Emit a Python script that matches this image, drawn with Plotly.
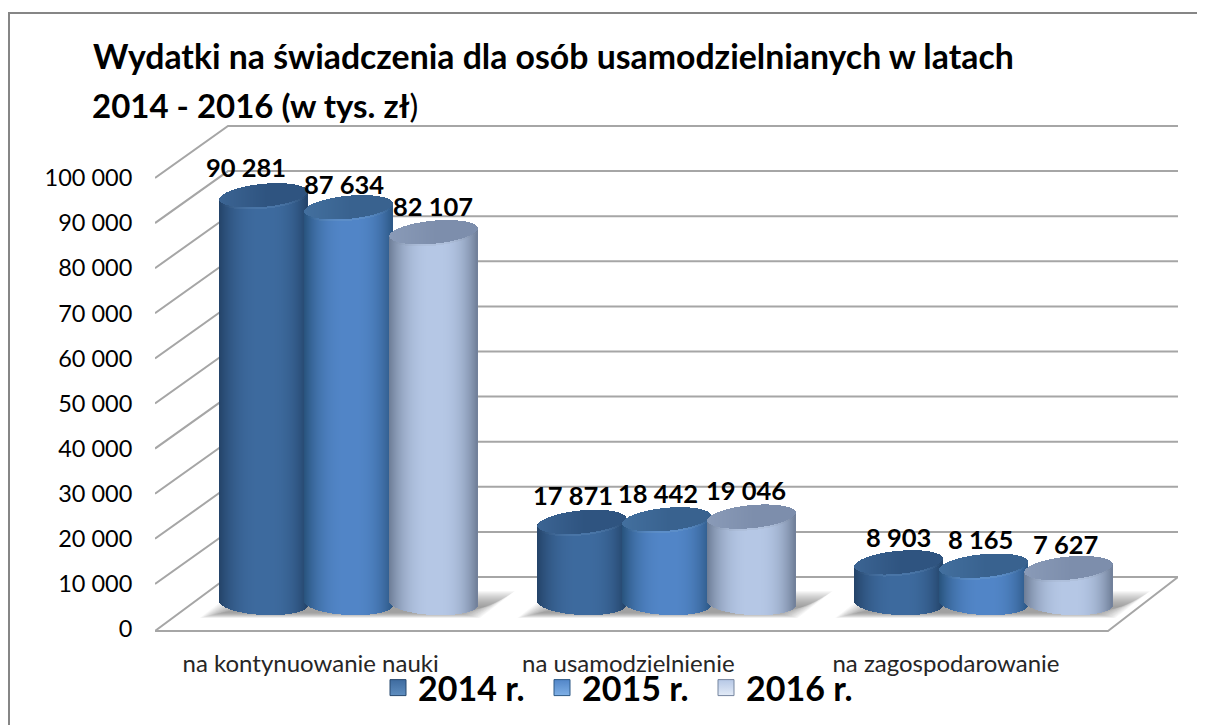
import numpy as np
import plotly.graph_objects as go

categories = ["na kontynuowanie nauki", "na usamodzielnienie", "na zagospodarowanie"]
series_names = ["2014 r.", "2015 r.", "2016 r."]
values_2014 = [90281, 17871, 8903]
values_2015 = [87634, 18442, 8165]
values_2016 = [82107, 19046, 7627]
y_ticks = list(range(0, 100001, 10000))
y_tick_labels = ["0", "10 000", "20 000", "30 000", "40 000", "50 000", "60 000", "70 000", "80 000", "90 000", "100 000"]

# label nudges in px (hand placed in the original)
label_dx = [[-18, -9, -1], [-5, -9, -4], [-1, -6, -4]]
label_dy = [[29, 27, 26], [24, 27, 27], [27, 27, 25]]

FONT = "Lato"
OFF = 8  # page body margin
W, H = 1205 - OFF, 725 - OFF
PX_L, PX_R, PX_T, PX_B = 155 - OFF, 1178 - OFF, 100 - OFF, 647 - OFF
PAPER_B = H - 1
Y0, Y100 = 629 - OFF, 178 - OFF
UNIT_X = 317.67
UNIT_Y = (Y0 - Y100) / 100000
x_lo = -0.5
x_hi = x_lo + (PX_R - PX_L) / UNIT_X
y_lo = -(PX_B - Y0) / UNIT_Y
y_hi = (Y0 - PX_T) / UNIT_Y
dxpx = lambda p: p / UNIT_X
dypx = lambda p: p / UNIT_Y
xp = lambda px: (px - OFF - PX_L) / (PX_R - PX_L)
yp = lambda py: (PAPER_B - (py - OFF)) / (PAPER_B - PX_T)

depth_x, depth_y = dxpx(73), dypx(52)
floor_right = x_lo + 953 / UNIT_X
group_shift = dxpx(35)
spacing = dxpx(85)
half_w = dxpx(44)
base_val = dypx(26)
h_top = dypx(12)
h_bot = dypx(12)
tilt_top = dypx(4)
tilt_bot = dypx(2)

palette = [
    dict(edgeL="#27486f", edgeR="#203f63", mid="#3e6b9f", top="#2f5480", topL="#3c6594", rim="#4a76a8", icon="#5f8ec0"),
    dict(edgeL="#2d5985", edgeR="#28527d", mid="#5286c8", top="#39628f", topL="#43709f", rim="#5d8fca", icon="#7fb0e6"),
    dict(edgeL="#75859f", edgeR="#66758e", mid="#b6c8e6", top="#7d8eac", topL="#8a9bb8", rim="#b0c1dd", icon="#e3ebf7"),
]
all_values = [values_2014, values_2015, values_2016]


def rgb(h):
    return np.array([int(h[i:i + 2], 16) for i in (1, 3, 5)], float)


def mix(a, b, f):
    c = rgb(a) * (1 - f) + rgb(b) * f
    return "rgb(%d,%d,%d)" % tuple(c)


N = 88
ts = (np.arange(N) + 0.5) / N * 2 - 1
fig = go.Figure()

for s, (name, vals, pal) in enumerate(zip(series_names, all_values, palette)):
    xs, bb, bh, bc = [], [], [], []
    rx, rb, rh, rc = [], [], [], []
    tx, tb, th, tc = [], [], [], []
    for g, v in enumerate(vals):
        cx = g + group_shift + (s - 1) * spacing
        top = base_val + v
        for t in ts:
            arc = np.sqrt(1 - t * t)
            x = cx + t * half_w
            edge = pal["edgeL"] if t < 0 else pal["edgeR"]
            f = 1 - abs(t - 0.05) ** 2.6
            low = base_val - h_bot * arc - tilt_bot * t
            up = top + tilt_top * t
            xs.append(x); bb.append(low); bh.append(up - low); bc.append(mix(edge, pal["mid"], f))
            yc = top + tilt_top * t
            rx.append(x); rb.append(yc - h_top * arc - dypx(1)); rh.append(h_top * arc + dypx(3))
            rc.append(mix(edge, pal["rim"], f))
            tx.append(x); tb.append(yc - h_top * arc + dypx(1.0)); th.append(2 * h_top * arc - dypx(1.0))
            tc.append(mix(pal["topL"], pal["top"], min(1, (t + 1) / 1.1)))
    w = half_w * 2 / N * 1.5
    fig.add_bar(x=xs, y=bh, base=bb, width=w, marker=dict(color=bc, line_width=0), hoverinfo="skip", showlegend=False)
    fig.add_bar(x=rx, y=rh, base=rb, width=w, marker=dict(color=rc, line_width=0), hoverinfo="skip", showlegend=False)
    fig.add_bar(x=tx, y=th, base=tb, width=w, marker=dict(color=tc, line_width=0), hoverinfo="skip", showlegend=False)

# legend entries
for name, pal in zip(series_names, palette):
    fig.add_scatter(x=[None], y=[None], mode="markers", name=name,
                    marker=dict(symbol="square", size=20, color=pal["mid"],
                                gradient=dict(type="vertical", color=pal["icon"]),
                                line=dict(color=pal["edgeL"], width=1)))

shapes = []
grid = dict(color="#a6a6a6", width=2)
# depth + back wall grid lines
for v in y_ticks:
    path = f"M {x_lo} {v} L {x_lo + depth_x} {v + depth_y} L {x_hi} {v + depth_y}"
    if v == 0:
        path = (f"M {floor_right} {dypx(-2)} L {x_lo} {dypx(-2)} L {x_lo + depth_x} {depth_y} "
                f"L {x_hi} {depth_y} Z")
    shapes.append(dict(type="path", path=path, xref="x", yref="y", line=grid, layer="below"))
# soft floor shadows
for g in range(3):
    for inset in np.arange(0, 16, 1.0):
        xl = g + group_shift - spacing - half_w - dxpx(20) + dxpx(inset * 1.5)
        xr = g + group_shift + spacing + half_w + dxpx(2) - dxpx(inset * 1.5)
        yb, yt = dypx(11 + inset * 0.35), dypx(38 - inset * 1.0)
        skew = dxpx(35)
        path = f"M {xl} {yb} L {xr} {yb} L {xr + skew} {yt} L {xl + skew} {yt} Z"
        shapes.append(dict(type="path", path=path, xref="x", yref="y", fillcolor="rgba(90,90,90,0.05)",
                           line_width=0, layer="below"))
# outer frame: only the top and left edges are visible
shapes.append(dict(type="path", xref="paper", yref="paper",
                   path=f"M {xp(9)} {yp(760)} L {xp(9)} {yp(13)} L {xp(1240)} {yp(13)}",
                   line=dict(color="#868686", width=2), layer="below"))

annotations = []
for s, vals in enumerate(all_values):
    for g, v in enumerate(vals):
        cx = g + group_shift + (s - 1) * spacing
        annotations.append(dict(x=cx, y=base_val + v, xref="x", yref="y", showarrow=False,
                                text="<b>" + f"{v:,}".replace(",", " ") + "</b>",
                                xshift=label_dx[s][g], yshift=label_dy[s][g],
                                font=dict(family=FONT, size=25.5, color="#000000")))
annotations.append(dict(x=xp(90), y=yp(105), xref="paper", yref="paper", xanchor="left", yanchor="middle",
                        showarrow=False, text="<b>2014 - 2016 (w tys. zł</b>)",
                        font=dict(family=FONT, size=33, color="#000000")))

fig.update_layout(
    width=W, height=H, autosize=False,
    margin=dict(l=PX_L, r=W - PX_R, t=PX_T, b=H - PAPER_B, pad=0),
    paper_bgcolor="#ffffff", plot_bgcolor="rgba(0,0,0,0)",
    barmode="overlay", bargap=0,
    title=dict(text="<b>Wydatki na świadczenia dla osób usamodzielnianych w latach</b>",
               x=(93 - OFF) / W, xanchor="left", xref="container", y=1 - (57 - OFF) / H, yanchor="middle",
               font=dict(family=FONT, size=33.8, color="#000000")),
    xaxis=dict(range=[x_lo, x_hi], tickmode="array", tickvals=[-0.01, 0.99, 1.99], ticktext=categories,
               showgrid=False, zeroline=False, showline=False, ticks="",
               tickfont=dict(family=FONT, size=24, color="#262626")),
    yaxis=dict(range=[y_lo, y_hi], domain=[(PAPER_B - PX_B) / (PAPER_B - PX_T), 1],
               tickmode="array", tickvals=y_ticks, ticktext=y_tick_labels,
               showgrid=False, zeroline=False, showline=False, ticks="outside", ticklen=17,
               tickcolor="rgba(0,0,0,0)", tickfont=dict(family=FONT, size=23.5, color="#000000")),
    legend=dict(orientation="h", x=xp(378), xref="paper", xanchor="left",
                y=yp(688), yref="paper", yanchor="middle",
                font=dict(family=FONT, size=34, color="#000000", weight="bold"), bgcolor="rgba(0,0,0,0)",
                entrywidth=119, entrywidthmode="pixels", itemsizing="trace"),
    shapes=shapes, annotations=annotations,
)

fig.write_html("out.html")
